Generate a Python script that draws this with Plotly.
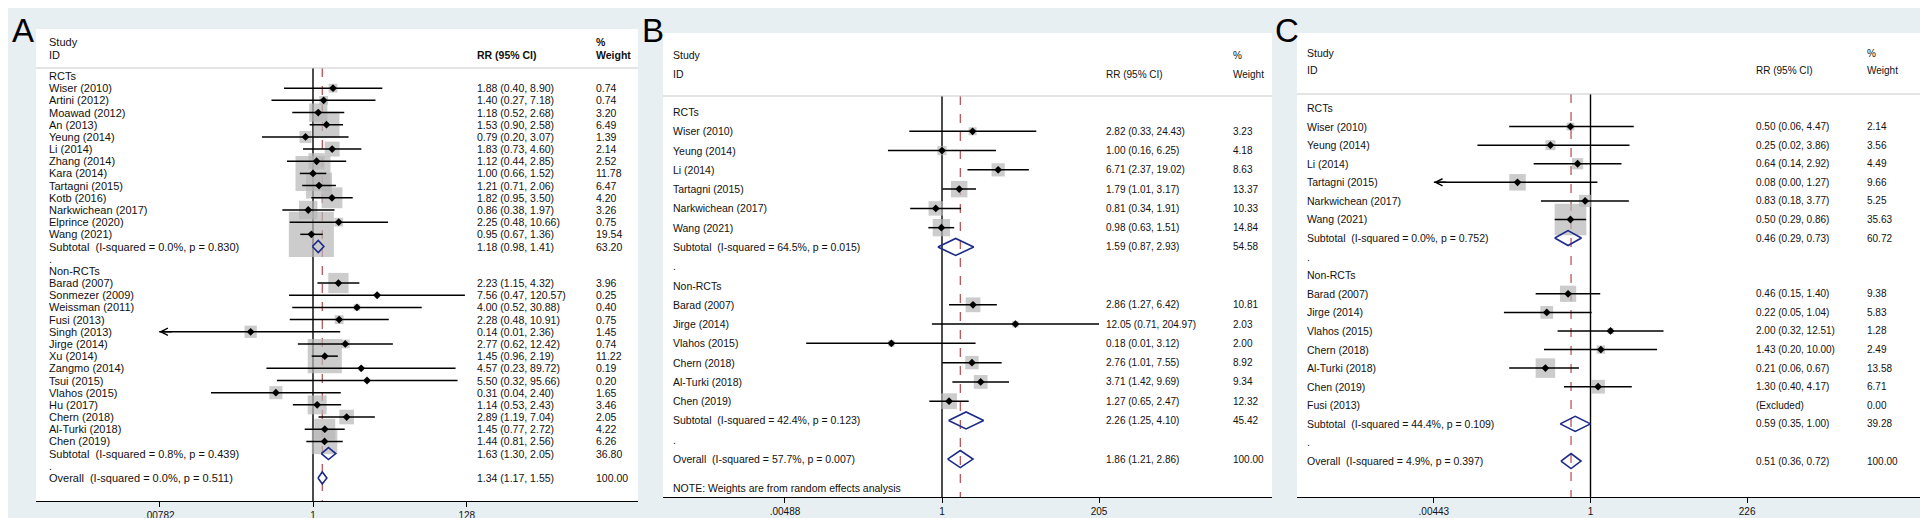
import numpy as np
import plotly.graph_objects as go

W, H = 1928, 518

# ---------------- panel A ----------------
a_rct_study = ["Wiser (2010)", "Artini (2012)", "Moawad (2012)", "An (2013)", "Yeung (2014)",
               "Li (2014)", "Zhang (2014)", "Kara (2014)", "Tartagni (2015)", "Kotb (2016)",
               "Narkwichean (2017)", "Elprince (2020)", "Wang (2021)"]
a_rct_rr = [1.88, 1.40, 1.18, 1.53, 0.79, 1.83, 1.12, 1.00, 1.21, 1.82, 0.86, 2.25, 0.95]
a_rct_lo = [0.40, 0.27, 0.52, 0.90, 0.20, 0.73, 0.44, 0.66, 0.71, 0.95, 0.38, 0.48, 0.67]
a_rct_hi = [8.90, 7.18, 2.68, 2.58, 3.07, 4.60, 2.85, 1.52, 2.06, 3.50, 1.97, 10.66, 1.36]
a_rct_wt = [0.74, 0.74, 3.20, 6.49, 1.39, 2.14, 2.52, 11.78, 6.47, 4.20, 3.26, 0.75, 19.54]
a_non_study = ["Barad (2007)", "Sonmezer (2009)", "Weissman (2011)", "Fusi (2013)", "Singh (2013)",
               "Jirge (2014)", "Xu (2014)", "Zangmo (2014)", "Tsui (2015)", "Vlahos (2015)",
               "Hu (2017)", "Chern (2018)", "Al-Turki (2018)", "Chen (2019)"]
a_non_rr = [2.23, 7.56, 4.00, 2.28, 0.14, 2.77, 1.45, 4.57, 5.50, 0.31, 1.14, 2.89, 1.45, 1.44]
a_non_lo = [1.15, 0.47, 0.52, 0.48, 0.0075, 0.62, 0.96, 0.23, 0.32, 0.04, 0.53, 1.19, 0.77, 0.81]
a_non_hi = [4.32, 120.57, 30.88, 10.91, 2.36, 12.42, 2.19, 89.72, 95.66, 2.40, 2.43, 7.04, 2.72, 2.56]
a_non_wt = [3.96, 0.25, 0.40, 0.75, 1.45, 0.74, 11.22, 0.19, 0.20, 1.65, 3.46, 2.05, 4.22, 6.26]
# pooled rows: RCT subtotal, non-RCT subtotal, overall
a_pool_rr = [1.18, 1.63, 1.34]
a_pool_lo = [0.98, 1.30, 1.17]
a_pool_hi = [1.41, 2.05, 1.55]
a_pool_wt = [63.20, 36.80, 100.00]
a_pool_i2 = [0.0, 0.8, 0.0]
a_pool_p = [0.830, 0.439, 0.511]
a_ticks = [0.00782, 1, 128]
a_ticktext = [".00782", "1", "128"]

# ---------------- panel B ----------------
b_rct_study = ["Wiser (2010)", "Yeung (2014)", "Li (2014)", "Tartagni (2015)",
               "Narkwichean (2017)", "Wang (2021)"]
b_rct_rr = [2.82, 1.00, 6.71, 1.79, 0.81, 0.98]
b_rct_lo = [0.33, 0.16, 2.37, 1.01, 0.34, 0.63]
b_rct_hi = [24.43, 6.25, 19.02, 3.17, 1.91, 1.51]
b_rct_wt = [3.23, 4.18, 8.63, 13.37, 10.33, 14.84]
b_non_study = ["Barad (2007)", "Jirge (2014)", "Vlahos (2015)", "Chern (2018)",
               "Al-Turki (2018)", "Chen (2019)"]
b_non_rr = [2.86, 12.05, 0.18, 2.76, 3.71, 1.27]
b_non_lo = [1.27, 0.71, 0.01, 1.01, 1.42, 0.65]
b_non_hi = [6.42, 204.97, 3.12, 7.55, 9.69, 2.47]
b_non_wt = [10.81, 2.03, 2.00, 8.92, 9.34, 12.32]
b_pool_rr = [1.59, 2.26, 1.86]
b_pool_lo = [0.87, 1.25, 1.21]
b_pool_hi = [2.93, 4.10, 2.86]
b_pool_wt = [54.58, 45.42, 100.00]
b_pool_i2 = [64.5, 42.4, 57.7]
b_pool_p = [0.015, 0.123, 0.007]
b_ticks = [0.00488, 1, 205]
b_ticktext = [".00488", "1", "205"]
b_note = "NOTE: Weights are from random effects analysis"

# ---------------- panel C ----------------
c_rct_study = ["Wiser (2010)", "Yeung (2014)", "Li (2014)", "Tartagni (2015)",
               "Narkwichean (2017)", "Wang (2021)"]
c_rct_rr = [0.50, 0.25, 0.64, 0.08, 0.83, 0.50]
c_rct_lo = [0.06, 0.02, 0.14, 0.004, 0.18, 0.29]
c_rct_hi = [4.47, 3.86, 2.92, 1.27, 3.77, 0.86]
c_rct_wt = [2.14, 3.56, 4.49, 9.66, 5.25, 35.63]
c_non_study = ["Barad (2007)", "Jirge (2014)", "Vlahos (2015)", "Chern (2018)",
               "Al-Turki (2018)", "Chen (2019)"]
c_non_rr = [0.46, 0.22, 2.00, 1.43, 0.21, 1.30]
c_non_lo = [0.15, 0.05, 0.32, 0.20, 0.06, 0.40]
c_non_hi = [1.40, 1.04, 12.51, 10.00, 0.67, 4.17]
c_non_wt = [9.38, 5.83, 1.28, 2.49, 13.58, 6.71]
c_excluded = ["Fusi (2013)"]
c_pool_rr = [0.46, 0.59, 0.51]
c_pool_lo = [0.29, 0.35, 0.36]
c_pool_hi = [0.73, 1.00, 0.72]
c_pool_wt = [60.72, 39.28, 100.00]
c_pool_i2 = [0.0, 44.4, 4.9]
c_pool_p = [0.752, 0.109, 0.397]
c_ticks = [0.00443, 1, 226]
c_ticktext = [".00443", "1", "226"]

# ---------------- panel geometry (pixels) ----------------
FONT = "Liberation Sans, Arial, sans-serif"
geo_a = dict(letter="A", letter_x=2, left=28, right=630, top=21, bottom=493, one_px=305, px_ln=31.7,
             row0=68, step=12.18, lab_x=39, rr_x=467, wt_x=586, study_y=34, id_y=47, sep_y=60,
             box_k=10.2, dia_h=6, size=11, num_size=10.5, tick_size=10, bold_hdr=True)
geo_b = dict(letter="B", letter_x=632, left=655, right=1264, top=25, bottom=489, one_px=934, px_ln=29.5,
             row0=104, step=19.28, lab_x=663, rr_x=1096, wt_x=1223, study_y=47, id_y=66, sep_y=88,
             box_k=4.5, dia_h=8.5, size=10.5, num_size=10, tick_size=10, bold_hdr=False, note_y=480)
geo_c = dict(letter="C", letter_x=1265, left=1289, right=1912, top=25, bottom=489, one_px=1582.5, px_ln=28.9,
             row0=100, step=18.58, lab_x=1297, rr_x=1746, wt_x=1857, study_y=45, id_y=62, sep_y=86,
             box_k=5.3, dia_h=7.5, size=10.5, num_size=10, tick_size=10, bold_hdr=False)

BOX = "#b7b7b7"
NAVY = "#1c2a88"
RED = "#b5484a"
NB = "\u00a0"

fig = go.Figure()
annotations = []
shapes = []


def add_panel(n, g, rct, non, pool, ticks, ticktext, excluded=(), note=None):
    xa = "x" if n == 1 else f"x{n}"
    ya = "y" if n == 1 else f"y{n}"

    def row_of(py):
        return (py - g["row0"]) / g["step"]

    def text(px, row, s, bold=False, num=False):
        annotations.append(dict(
            x=px / W, y=row, xref="paper", yref=ya, text=f"<b>{s}</b>" if bold else s,
            showarrow=False, xanchor="left", yanchor="middle",
            font=dict(family=FONT, size=g["num_size"] if num else g["size"], color="#111")))

    # header
    text(g["lab_x"], row_of(g["study_y"]), "Study")
    text(g["lab_x"], row_of(g["id_y"]), "ID")
    text(g["rr_x"], row_of(g["id_y"]), "RR (95% CI)", g["bold_hdr"], True)
    text(g["wt_x"], row_of(g["study_y"]), "%", g["bold_hdr"], True)
    text(g["wt_x"], row_of(g["id_y"]), "Weight", g["bold_hdr"], True)
    shapes.append(dict(type="line", xref="paper", yref=ya, x0=g["left"] / W, x1=g["right"] / W,
                       y0=row_of(g["sep_y"]), y1=row_of(g["sep_y"]),
                       line=dict(color="#c9c9c9", width=1)))

    studies = []
    pooled = []
    r = 0
    groups = [("RCTs", rct, ()), ("Non-RCTs", non, excluded)]
    for gi, (gname, data, excl) in enumerate(groups):
        text(g["lab_x"], r, gname)
        r += 1
        for s, rr, lo, hi, wt in zip(*data):
            text(g["lab_x"], r, s)
            text(g["rr_x"], r, f"{rr:.2f} ({lo:.2f}, {hi:.2f})", num=True)
            text(g["wt_x"], r, f"{wt:.2f}", num=True)
            studies.append((r, rr, lo, hi, wt))
            r += 1
        for s in excl:
            text(g["lab_x"], r, s)
            text(g["rr_x"], r, "(Excluded)", num=True)
            text(g["wt_x"], r, "0.00", num=True)
            r += 1
        rr, lo, hi, wt, i2, p = [v[gi] for v in pool]
        text(g["lab_x"], r, f"Subtotal{NB}{NB}(I-squared = {i2:.1f}%, p = {p:.3f})")
        text(g["rr_x"], r, f"{rr:.2f} ({lo:.2f}, {hi:.2f})", num=True)
        text(g["wt_x"], r, f"{wt:.2f}", num=True)
        pooled.append((r, rr, lo, hi))
        r += 1
        text(g["lab_x"], r, ".")
        r += 1
    rr, lo, hi, wt, i2, p = [v[2] for v in pool]
    text(g["lab_x"], r, f"Overall{NB}{NB}(I-squared = {i2:.1f}%, p = {p:.3f})")
    text(g["rr_x"], r, f"{rr:.2f} ({lo:.2f}, {hi:.2f})", num=True)
    text(g["wt_x"], r, f"{wt:.2f}", num=True)
    pooled.append((r, rr, lo, hi))
    overall = rr
    if note:
        text(g["lab_x"], row_of(g["note_y"]), note)

    y_top = row_of(g["sep_y"])
    y_bot = row_of(g["bottom"])

    # reference lines
    fig.add_trace(go.Scatter(x=[1, 1], y=[y_top, y_bot], mode="lines", xaxis=xa, yaxis=ya,
                             line=dict(color="black", width=1.4), hoverinfo="skip"))
    fig.add_trace(go.Scatter(x=[overall, overall], y=[y_top, y_bot], mode="lines", xaxis=xa, yaxis=ya,
                             line=dict(color=RED, width=1.2, dash="dash"), hoverinfo="skip"))

    # weight boxes
    fig.add_trace(go.Scatter(
        x=[s[1] for s in studies], y=[s[0] for s in studies], mode="markers", xaxis=xa, yaxis=ya,
        marker=dict(symbol="square", color=BOX, line=dict(width=0),
                    size=[g["box_k"] * np.sqrt(s[4]) for s in studies])))

    # confidence intervals (arrow where the interval runs past the axis)
    cx, cy = [], []
    for row, rr, lo, hi, wt in studies:
        cx += [max(lo, ticks[0]), hi, None]
        cy += [row, row, None]
        if lo < ticks[0]:
            annotations.append(dict(x=np.log10(ticks[0]), y=row, xref=xa, yref=ya, text="",
                                    showarrow=True, ax=14, ay=0, arrowhead=5, arrowsize=1,
                                    arrowwidth=1.4, arrowcolor="black", standoff=0))
    fig.add_trace(go.Scatter(x=cx, y=cy, mode="lines", xaxis=xa, yaxis=ya,
                             line=dict(color="black", width=1.5)))
    fig.add_trace(go.Scatter(x=[s[1] for s in studies], y=[s[0] for s in studies], mode="markers",
                             xaxis=xa, yaxis=ya,
                             marker=dict(symbol="diamond", size=6, color="black")))

    # pooled diamonds
    h = g["dia_h"] / g["step"]
    dx, dy = [], []
    for row, rr, lo, hi in pooled:
        dx += [lo, rr, hi, rr, lo, None]
        dy += [row, row - h, row, row + h, row, None]
    fig.add_trace(go.Scatter(x=dx, y=dy, mode="lines", xaxis=xa, yaxis=ya,
                             line=dict(color=NAVY, width=1.6)))

    # panel letter
    annotations.append(dict(x=g["letter_x"] / W, y=1 - 2 / H, xref="paper", yref="paper",
                            text=g["letter"], showarrow=False, xanchor="left", yanchor="top",
                            font=dict(family=FONT, size=33, color="black")))

    ln10 = np.log(10)
    sfx = "" if n == 1 else str(n)
    fig.update_layout(**{
        f"xaxis{sfx}": dict(
            domain=[g["left"] / W, g["right"] / W], anchor=ya, type="log",
            range=[(g["left"] - g["one_px"]) / g["px_ln"] / ln10,
                   (g["right"] - g["one_px"]) / g["px_ln"] / ln10],
            tickvals=ticks, ticktext=ticktext, ticks="outside", ticklen=5, tickwidth=1.3,
            tickcolor="black", showline=True, linecolor="black", linewidth=1.4,
            showgrid=False, zeroline=False, fixedrange=True,
            tickfont=dict(family=FONT, size=g["tick_size"], color="#111")),
        f"yaxis{sfx}": dict(
            domain=[1 - g["bottom"] / H, 1 - g["top"] / H], anchor=xa,
            range=[y_bot, row_of(g["top"])], visible=False, fixedrange=True),
    })


add_panel(1, geo_a,
          (a_rct_study, a_rct_rr, a_rct_lo, a_rct_hi, a_rct_wt),
          (a_non_study, a_non_rr, a_non_lo, a_non_hi, a_non_wt),
          (a_pool_rr, a_pool_lo, a_pool_hi, a_pool_wt, a_pool_i2, a_pool_p),
          a_ticks, a_ticktext)
add_panel(2, geo_b,
          (b_rct_study, b_rct_rr, b_rct_lo, b_rct_hi, b_rct_wt),
          (b_non_study, b_non_rr, b_non_lo, b_non_hi, b_non_wt),
          (b_pool_rr, b_pool_lo, b_pool_hi, b_pool_wt, b_pool_i2, b_pool_p),
          b_ticks, b_ticktext, note=b_note)
add_panel(3, geo_c,
          (c_rct_study, c_rct_rr, c_rct_lo, c_rct_hi, c_rct_wt),
          (c_non_study, c_non_rr, c_non_lo, c_non_hi, c_non_wt),
          (c_pool_rr, c_pool_lo, c_pool_hi, c_pool_wt, c_pool_i2, c_pool_p),
          c_ticks, c_ticktext, excluded=c_excluded)

fig.update_layout(width=W, height=H, margin=dict(l=0, r=0, t=0, b=0),
                  paper_bgcolor="#e8eff2", plot_bgcolor="white", showlegend=False,
                  annotations=annotations, shapes=shapes, hovermode=False)

fig.write_html("out.html")
